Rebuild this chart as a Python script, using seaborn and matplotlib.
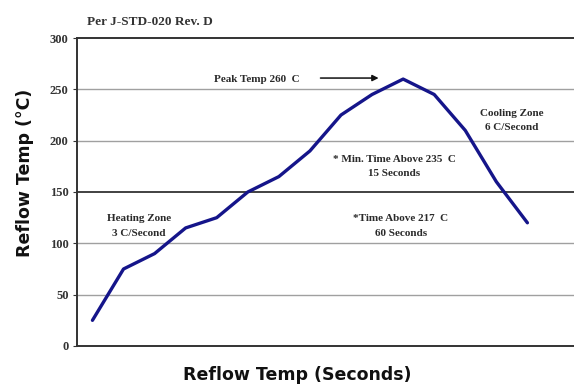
import pandas as pd
import seaborn as sns
import matplotlib.pyplot as plt

# Reflow profile values (evenly spaced samples)
sample_idx = list(range(15))
temps = [25, 75, 90, 115, 125, 150, 165, 190, 225, 245, 260, 245, 210, 160, 120]
y_ticks = [0, 50, 100, 150, 200, 250, 300]

df = pd.DataFrame({'sample': sample_idx, 'temp': temps})

sns.set_theme(style="white")
plt.rcParams['font.family'] = ['Liberation Serif', 'DejaVu Serif']

fig = plt.figure(figsize=(5.74, 3.84), dpi=100)
ax = fig.add_axes([0.134, 0.099, 0.866, 0.802])

# gridlines: thin gray, darker at 150
for t in y_ticks[1:-1]:
    dark = (t == 150)
    ax.axhline(t, color='#333333' if dark else '#a0a0a0',
               lw=1.3 if dark else 1.0, zorder=1)

sns.lineplot(data=df, x='sample', y='temp', color='#15158a', lw=2.4, ax=ax, zorder=3)

ax.set_xlim(-0.5, 15.5)
ax.set_ylim(0, 300)
ax.set_yticks(y_ticks)
ax.set_yticklabels([str(t) for t in y_ticks], fontsize=9, fontweight='bold', color='#333333')
ax.set_xticks([])
ax.tick_params(axis='y', length=3, width=0.8, color='#333333', pad=3, left=True)

for side in ['left', 'top', 'bottom']:
    ax.spines[side].set_color('#333333')
    ax.spines[side].set_linewidth(1.4)
ax.spines['right'].set_visible(False)

# axis labels (placed to match the original layout)
lab_font = ['DejaVu Sans']
ax.set_xlabel('')
ax.set_ylabel('')
fig.text(0.518, 0.023, 'Reflow Temp (Seconds)', fontsize=12.5, fontweight='bold',
         family=lab_font, color='#111111', ha='center', va='center')
fig.text(0.044, 0.55, 'Reflow Temp (°C)', fontsize=12.5, fontweight='bold',
         family=lab_font, color='#111111', ha='center', va='center', rotation=90)
fig.text(0.152, 0.943, 'Per J-STD-020 Rev. D', fontsize=9.5, fontweight='bold',
         color='#333333', ha='left', va='center')

# annotations
txt = dict(fontsize=8, fontweight='bold', color='#2a2a2a', ha='center', va='center',
           linespacing=1.75)
ax.text(1.5, 117, 'Heating Zone\n3 C/Second', **txt)
ax.text(13.5, 220, 'Cooling Zone\n6 C/Second', **txt)
ax.text(9.72, 175, '* Min. Time Above 235  C\n15 Seconds', **txt)
ax.text(9.92, 117, '*Time Above 217  C\n60 Seconds', **txt)
ax.text(3.9, 260, 'Peak Temp 260  C', fontsize=8, fontweight='bold', color='#2a2a2a',
        ha='left', va='center')
ax.annotate('', xy=(9.3, 261), xytext=(7.25, 261),
            arrowprops=dict(arrowstyle='-|>', color='#111111', lw=1.1, mutation_scale=9))

fig.savefig('out.png', dpi=100)
